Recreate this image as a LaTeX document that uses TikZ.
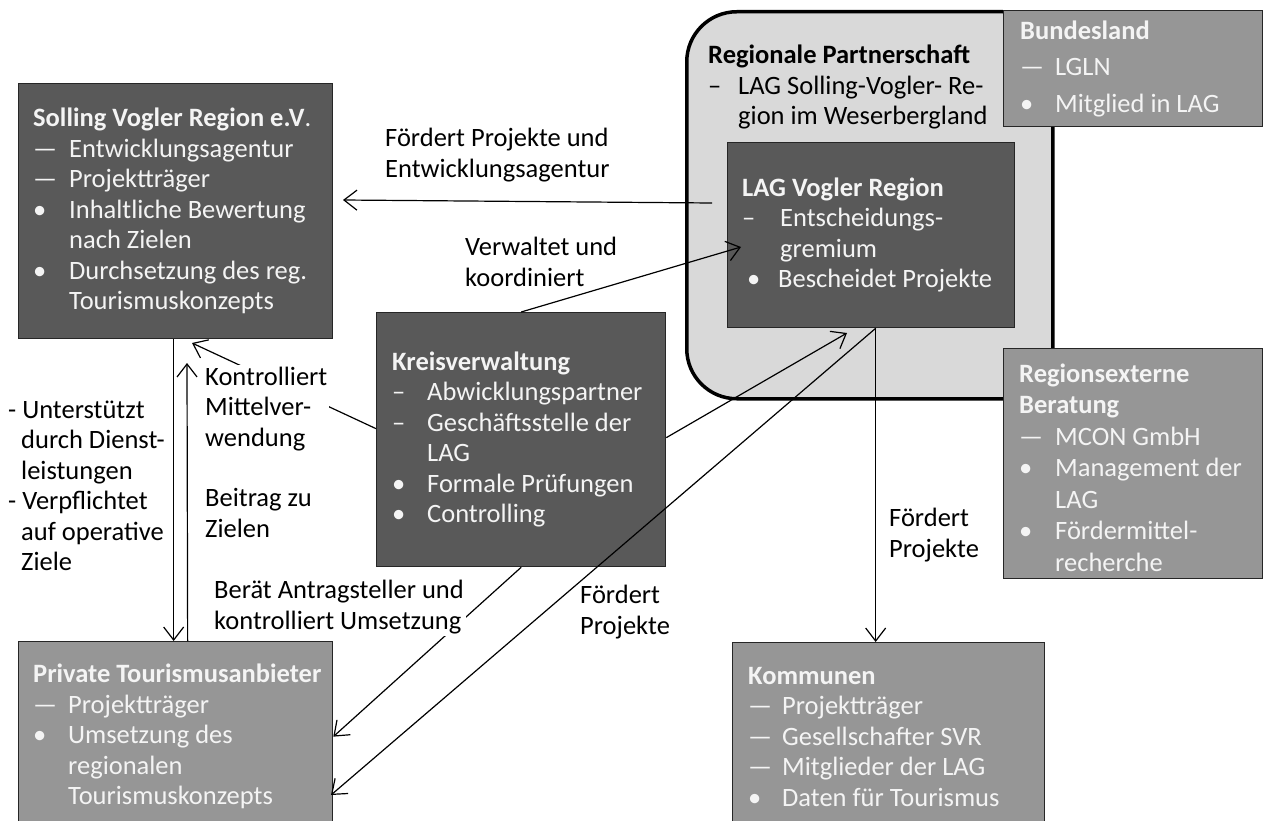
\documentclass[tikz,border=0pt]{standalone}
\usepackage{fontspec}
\setmainfont{Carlito}
\usepackage{tikz}
\usetikzlibrary{arrows.meta}

\definecolor{darkfill}{HTML}{595959}
\definecolor{midfill}{HTML}{969696}
\definecolor{lightfill}{HTML}{D9D9D9}
\definecolor{boxtext}{HTML}{F4F4F4}

\newcommand{\boxitem}[3][35pt]{\makebox[#1][l]{#2}#3}
\newcommand{\boxcont}[2][35pt]{\hspace*{#1}#2}

\tikzset{
  darkbox/.style={draw=black!85, line width=1.3pt, fill=darkfill, anchor=north west, inner sep=0pt},
  midbox/.style={darkbox, fill=midfill},
  lbl/.style={align=left, anchor=west, inner sep=0pt},
  boxtxt/.style={lbl, text=boxtext},
  arr/.style={line width=1.2pt, -{Straight Barb[length=13pt,width=20pt]}},
}

\begin{document}
\begin{tikzpicture}[x=1pt, y=-1pt, font=\fontsize{26.5}{30.5}\selectfont]
    \useasboundingbox (0,0) rectangle (1263,821);

    \node[draw, line width=3.5pt, rounded corners=50pt, fill=lightfill, anchor=north west,
          minimum width=366pt, minimum height=387pt] (rp) at (685,10) {};
    \node[lbl] (rptxt) at (708,87) {\textbf{Regionale Partnerschaft}\\
        \boxitem[30pt]{–}{LAG Solling-Vogler- Re-}\\
        \boxcont[30pt]{gion im Weserbergland}};

    \node[darkbox, minimum width=314pt, minimum height=255pt] (svr) at (18,83) {};
    \node[darkbox, minimum width=289pt, minimum height=254pt] (kreis) at (376,312) {};
    \node[darkbox, minimum width=287pt, minimum height=185pt] (lag) at (727,142) {};
    \node[midbox, minimum width=259pt, minimum height=116pt] (bund) at (1003,10) {};
    \node[midbox, minimum width=259pt, minimum height=230pt] (extern) at (1003,348) {};
    \node[midbox, minimum width=312pt, minimum height=188pt] (komm) at (732,642) {};
    \node[midbox, minimum width=314pt, minimum height=190pt] (priv) at (18,641) {};

    \node[boxtxt] (svrtxt) at ([xshift=15pt]svr.west) {\textbf{Solling Vogler Region e.V}.\\
        \boxitem[36pt]{—}{Entwicklungsagentur}\\
        \boxitem[36pt]{—}{Projektträger}\\
        \boxitem[36pt]{•}{Inhaltliche  Bewertung}\\
        \boxcont[36pt]{nach Zielen}\\
        \boxitem[36pt]{•}{Durchsetzung des  reg.}\\
        \boxcont[36pt]{Tourismuskonzepts}};
    \node[boxtxt] (kreistxt) at ([xshift=16pt]kreis.west) {\textbf{Kreisverwaltung}\\
        \boxitem{–}{Abwicklungspartner}\\
        \boxitem{–}{Geschäftsstelle der}\\
        \boxcont{LAG}\\
        \boxitem{•}{Formale Prüfungen}\\
        \boxitem{•}{Controlling}};
    \node[boxtxt] (lagtxt) at ([xshift=15pt]lag.west) {\textbf{LAG Vogler Region}\\
        \boxitem[38pt]{–}{Entscheidungs-}\\
        \boxcont[38pt]{gremium}\\
        \boxitem[36pt]{\hspace{5pt}•}{Bescheidet Projekte}};
    \node[boxtxt] (bundtxt) at ([xshift=17pt]bund.west) {\textbf{Bundesland}\\[6pt]
        \boxitem{—}{LGLN}\\[6pt]
        \boxitem{•}{Mitglied in LAG}};
    \node[boxtxt] (externtxt) at ([xshift=16pt,yshift=-4pt]extern.west) {\textbf{Regionsexterne}\\[1pt]
        \textbf{Beratung}\\[1pt]
        \boxitem[36pt]{—}{MCON GmbH}\\[1pt]
        \boxitem[36pt]{•}{Management der}\\[1pt]
        \boxcont[36pt]{LAG}\\[1pt]
        \boxitem[36pt]{•}{Fördermittel-}\\[1pt]
        \boxcont[36pt]{recherche}};
    \node[boxtxt] (kommtxt) at ([xshift=16pt]komm.west) {\textbf{Kommunen}\\
        \boxitem[34pt]{—}{Projektträger}\\
        \boxitem[34pt]{—}{Gesellschafter SVR}\\
        \boxitem[34pt]{—}{Mitglieder der LAG}\\
        \boxitem[34pt]{•}{Daten für Tourismus}};
    \node[boxtxt] (privtxt) at ([xshift=15pt]priv.west) {\textbf{Private Tourismusanbieter}\\
        \boxitem{—}{Projektträger}\\
        \boxitem{•}{Umsetzung des}\\
        \boxcont{regionalen}\\
        \boxcont{Tourismuskonzepts}};

    \coordinate (fpestart) at (712,203);
    \coordinate (fpeend) at (343,200);
    \coordinate (upend) at (187,363);
    \coordinate (kmend) at (192,343);
    \coordinate (vkend) at (741,247);
    \coordinate (klend) at (847,333);
    \coordinate (fpend) at (331,795);

    \draw[arr] (fpestart) -- (fpeend);
    \draw[arr] ([xshift=-2pt]svr.south) -- ([xshift=-2pt]svr.south |- priv.north);
    \draw[arr] ([xshift=12pt]priv.north) -- (upend);
    \draw[arr] ([yshift=11pt]kreis.west) -- (kmend);
    \draw[arr] (kreis.north) -- (vkend);
    \draw[arr] ([yshift=2pt]kreis.east) -- (klend);
    \draw[arr] (kreis.south) -- (priv.east);
    \draw[arr] ([xshift=4.5pt]lag.south) -- (fpend);
    \draw[arr] ([xshift=4.5pt]lag.south) -- ([xshift=4.5pt]lag.south |- komm.north);

    \node[lbl] (fpelbl) at (385,155) {Fördert Projekte und\\Entwicklungsagentur};
    \node[lbl] (vklbl) at (465,262) {Verwaltet und\\koordiniert};
    \node[lbl, fill=white, inner sep=2pt] (kmlbl) at (203,409) {Kontrolliert\\Mittelver-\\wendung};
    \node[lbl] (bzlbl) at (205,513) {Beitrag zu\\Zielen};
    \node[lbl] (uslbl) at (8,486) {- Unterstützt\\
        \hspace*{13pt}durch Dienst-\\
        \hspace*{13pt}leistungen\\
        - Verpflichtet\\
        \hspace*{13pt}auf operative\\
        \hspace*{13pt}Ziele};
    \node[lbl, fill=white, inner sep=2pt] (balbl) at (212,607) {Berät Antragsteller und\\kontrolliert  Umsetzung};
    \node[lbl] (fplbla) at (580,612) {Fördert\\Projekte};
    \node[lbl] (fplblb) at (889,535) {Fördert\\Projekte};
\end{tikzpicture}
\end{document}
